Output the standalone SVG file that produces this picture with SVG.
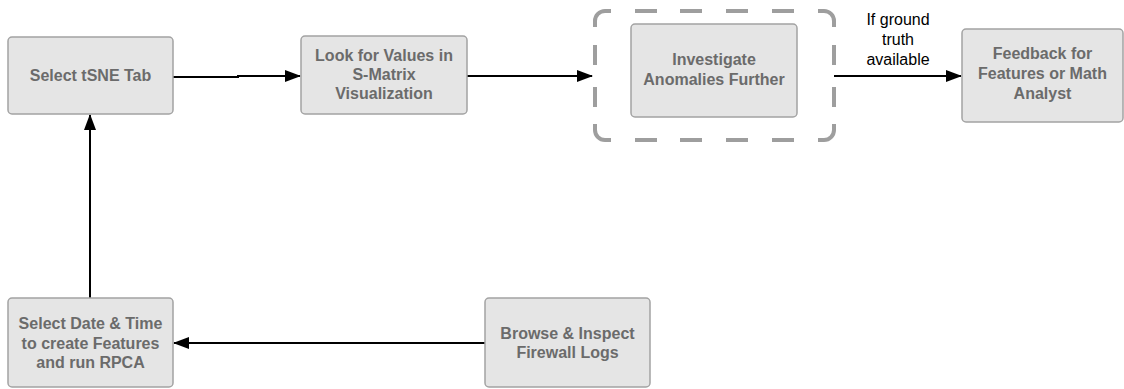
<svg xmlns="http://www.w3.org/2000/svg" width="1124" height="389" viewBox="0 0 1124 389">
<defs>
<style>
.box{fill:#e5e5e5;stroke:#a3a3a3;stroke-width:1.5}
.t{font-family:"Liberation Sans",Arial,sans-serif;font-size:16px;font-weight:bold;fill:#6b6b6b;text-anchor:middle}
.lbl{font-family:"Liberation Sans",Arial,sans-serif;font-size:16px;fill:#000;text-anchor:middle}
.edge{fill:none;stroke:#000;stroke-width:2}
.dash{fill:none;stroke:#9e9e9e;stroke-width:4;stroke-linecap:butt}
</style>
<marker id="ah" markerWidth="16" markerHeight="12" refX="15" refY="6" orient="auto" markerUnits="userSpaceOnUse">
<path d="M0,0 L16,6 L0,12 Z" fill="#000"/>
</marker>
</defs>
<rect width="1124" height="389" fill="#fff"/>
<g id="connectors">
<path class="edge" d="M173,77 L238,77 L238,76 L300,76" marker-end="url(#ah)"/>
<path class="edge" d="M467,76 L592,76" marker-end="url(#ah)"/>
<path class="edge" d="M834,76 L961,76" marker-end="url(#ah)"/>
<path class="edge" d="M485,343 L174,343" marker-end="url(#ah)"/>
<path class="edge" d="M90,298 L90,115" marker-end="url(#ah)"/>
<text class="lbl"><tspan x="898" y="25">If ground</tspan><tspan x="898" y="45">truth</tspan><tspan x="898" y="65">available</tspan></text>
</g>
<g id="group-investigate">
<path class="dash" d="M595,27 V21 A10,10 0 0 1 605,11 H611 M635,11 H657 M680,11 H702 M726,11 H748 M772,11 H794 M818,11 H824 A10,10 0 0 1 834,21 V27 M834,45 V65 M834,87 V107 M834,124 V130 A10,10 0 0 1 824,140 H818 M794,140 H772 M748,140 H726 M702,140 H680 M657,140 H635 M611,140 H605 A10,10 0 0 1 595,130 V124 M595,107 V87 M595,65 V45"/>
</g>
<g id="node-tsne">
<rect class="box" x="8" y="37" width="165" height="77" rx="4"/>
<text class="t" x="90.5" y="81">Select tSNE Tab</text>
</g>
<g id="node-smatrix">
<rect class="box" x="301" y="36" width="166" height="78" rx="4"/>
<text class="t"><tspan x="384" y="61">Look for Values in</tspan><tspan x="384" y="80">S-Matrix</tspan><tspan x="384" y="99">Visualization</tspan></text>
</g>
<g id="node-investigate">
<rect class="box" x="631" y="24" width="166" height="93" rx="4"/>
<text class="t"><tspan x="714" y="65">Investigate</tspan><tspan x="714" y="85">Anomalies Further</tspan></text>
</g>
<g id="node-feedback">
<rect class="box" x="962" y="29" width="161" height="93" rx="4"/>
<text class="t"><tspan x="1042.5" y="59">Feedback for</tspan><tspan x="1042.5" y="79">Features or Math</tspan><tspan x="1042.5" y="99">Analyst</tspan></text>
</g>
<g id="node-datetime">
<rect class="box" x="8" y="298" width="165" height="89" rx="4"/>
<text class="t"><tspan x="90.5" y="329">Select Date &amp; Time</tspan><tspan x="90.5" y="349">to create Features</tspan><tspan x="90.5" y="368">and run RPCA</tspan></text>
</g>
<g id="node-firewall">
<rect class="box" x="485" y="298" width="165" height="89" rx="4"/>
<text class="t"><tspan x="567.5" y="339">Browse &amp; Inspect</tspan><tspan x="567.5" y="358">Firewall Logs</tspan></text>
</g>
</svg>
